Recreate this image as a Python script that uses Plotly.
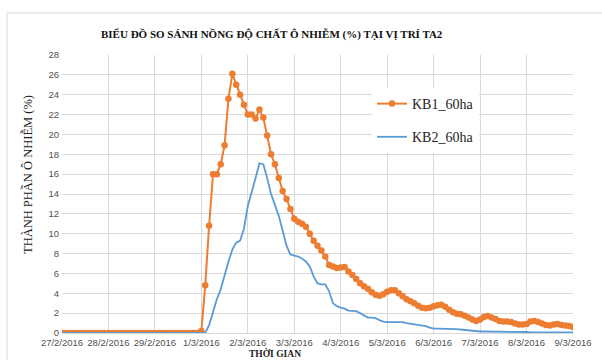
import pandas as pd
import plotly.graph_objects as go

# 2-hourly samples from 27/2/2016 00:00 to 9/3/2016 00:00
start_time = "2016-02-27 00:00"
step = "2h"

kb1_pre = [0.0] * 36
kb1_main = [0.2, 4.8, 10.8, 16.0, 16.0, 17.0, 18.9, 23.6, 26.1, 25.0, 24.0, 23.0, 22.0, 22.0,
            21.6, 22.5, 21.7, 19.9, 18.0, 17.0, 15.6, 14.3, 13.5, 12.5, 11.5, 11.2, 11.0, 10.7,
            10.0, 9.3, 8.8, 8.3, 7.7, 6.85, 6.7, 6.55, 6.6, 6.65, 6.2, 5.85, 5.45, 5.0, 4.7,
            4.45, 4.1, 3.85, 3.75, 3.9, 4.15, 4.3, 4.3, 4.0, 3.7, 3.4, 3.2, 3.0, 2.75, 2.55,
            2.5, 2.55, 2.7, 2.8, 2.85, 2.65, 2.35, 2.1, 1.95, 1.9, 1.75, 1.55, 1.35, 1.2, 1.35,
            1.6, 1.7, 1.55, 1.4, 1.2, 1.15, 1.15, 1.1, 0.95, 0.85, 0.85, 0.9, 1.15, 1.2, 1.1,
            0.95, 0.8, 0.75, 0.85, 0.9, 0.8, 0.75, 0.7, 0.6]
kb1 = kb1_pre + kb1_main

kb2_pre = [0.0] * 38
kb2_main = [0.8, 2.2, 3.4, 4.4, 5.9, 7.2, 8.4, 9.1, 9.3, 10.5, 12.8, 14.1, 15.6, 17.1, 17.0,
            15.6, 14.0, 12.9, 11.8, 10.3, 8.8, 7.9, 7.8, 7.7, 7.5, 7.2, 6.7, 5.7, 5.0, 4.9, 4.9,
            4.2, 3.0, 2.7, 2.55, 2.45, 2.25, 2.25, 2.2, 2.0, 1.75, 1.55, 1.55, 1.5, 1.3, 1.15,
            1.1, 1.1, 1.1, 1.1, 1.1, 1.0, 0.95, 0.85, 0.85, 0.8, 0.7, 0.55, 0.45, 0.45, 0.45,
            0.45, 0.45, 0.45, 0.4, 0.35, 0.3, 0.25, 0.2, 0.15, 0.15, 0.15, 0.15, 0.15, 0.15,
            0.15, 0.15, 0.15, 0.15, 0.1, 0.1, 0.1, 0.1, 0.05, 0.05, 0.05, 0.05, 0.05, 0.05,
            0.05, 0.05, 0.05, 0.05, 0.05, 0.05]
kb2 = kb2_pre + kb2_main

times1 = pd.date_range(start_time, periods=len(kb1), freq=step)
times2 = pd.date_range(start_time, periods=len(kb2), freq=step)

tick_dates = pd.date_range("2016-02-27", "2016-03-09", freq="D")
tick_labels = ["27/2/2016", "28/2/2016", "29/2/2016", "1/3/2016", "2/3/2016", "3/3/2016",
               "4/3/2016", "5/3/2016", "6/3/2016", "7/3/2016", "8/3/2016", "9/3/2016"]

series_names = ["KB1_60ha", "KB2_60ha"]
title_text = "BIỂU ĐỒ SO SÁNH NỒNG ĐỘ CHẤT Ô NHIỄM (%) TẠI VỊ TRÍ TA2"
y_title = "THÀNH PHẦN Ô NHIỄM (%)"
x_title = "THỜI GIAN"

serif = "Liberation Serif"
sans = "Liberation Sans"

fig = go.Figure()
fig.add_trace(go.Scatter(x=times1, y=kb1, name=series_names[0], mode="lines+markers",
                         line=dict(color="#ED7D31", width=2),
                         marker=dict(color="#ED7D31", size=6.5), legendgroup="a"))
fig.add_trace(go.Scatter(x=times2, y=kb2, name=series_names[1], mode="lines",
                         line=dict(color="#5B9BD5", width=1.8), legendgroup="b"))

L, R, T, B = 62, 29, 55, 27
W, H = 602, 360
pw, ph = W - L - R, H - T - B

def px_x(p):
    return (p - L) / pw

def px_y(p):
    return (H - B - p) / ph

fig.update_layout(
    width=W, height=H,
    margin=dict(l=L, r=R, t=T, b=B, autoexpand=False),
    paper_bgcolor="white", plot_bgcolor="white",
    showlegend=True,
    legend=dict(x=px_x(372), y=px_y(88), xanchor="left", yanchor="top",
                bgcolor="white", font=dict(family=serif, size=14, color="#222"),
                tracegroupgap=12, traceorder="grouped"),
    xaxis=dict(range=[tick_dates[0], tick_dates[-1]], tickvals=tick_dates, ticktext=tick_labels,
               showgrid=True, gridcolor="#d9d9d9", gridwidth=1, automargin=False,
               showline=True, linecolor="#d9d9d9", linewidth=1, ticks="",
               ticklabelstandoff=1,
               tickfont=dict(family=sans, size=9.5, color="#505050"), zeroline=False),
    yaxis=dict(range=[0, 28], dtick=2, showgrid=True, gridcolor="#d9d9d9", gridwidth=1,
               showline=False, ticks="", zeroline=False, automargin=False,
               ticklabelstandoff=2,
               tickfont=dict(family=sans, size=9.5, color="#505050")),
    annotations=[
        dict(text="<b>" + title_text + "</b>", xref="paper", yref="paper",
             x=px_x(272), y=px_y(34), xanchor="center", yanchor="middle", showarrow=False,
             font=dict(family=serif, size=11, color="#111")),
        dict(text=y_title, xref="paper", yref="paper", x=px_x(27), y=px_y(175),
             xanchor="center", yanchor="middle", textangle=-90, showarrow=False,
             font=dict(family=serif, size=12.5, color="#222")),
        dict(text="<b>" + x_title + "</b>", xref="paper", yref="paper", x=px_x(275), y=px_y(360),
             xanchor="center", yanchor="bottom", showarrow=False, borderpad=0,
             font=dict(family=serif, size=9.5, color="#222")),
    ],
    shapes=[dict(type="rect", xref="paper", yref="paper",
                 x0=px_x(7), x1=px_x(640), y0=px_y(400), y1=px_y(13),
                 line=dict(color="#d9d9d9", width=1), fillcolor="rgba(0,0,0,0)", layer="below")],
)

fig.write_html("out.html")
